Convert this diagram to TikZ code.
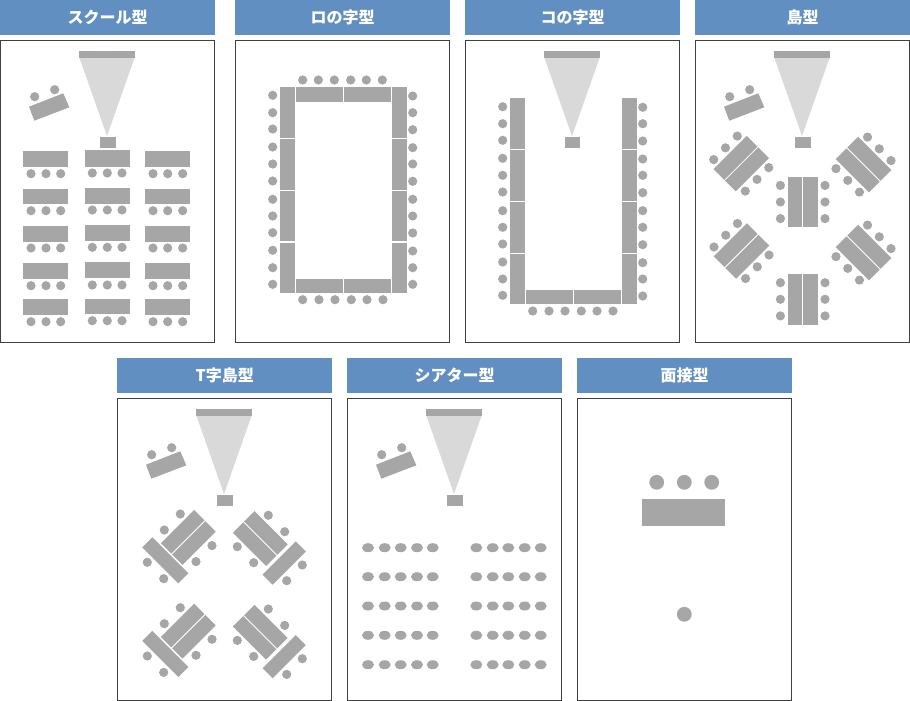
\documentclass[tikz,border=0pt]{standalone}
\usepackage{fontspec}
\newfontfamily\cjk{Noto Sans CJK JP}
\definecolor{hdr}{HTML}{628FC1}
\definecolor{furn}{HTML}{A6A6A6}
\definecolor{beam}{HTML}{D9D9D9}
\definecolor{edge}{HTML}{404040}
\tikzset{
  header/.style={fill=hdr,draw=none,text=white,minimum width=215pt,minimum height=35pt,inner sep=0pt,anchor=north west,font=\cjk\bfseries\fontsize{16pt}{17pt}\selectfont},
  panel/.style={draw=edge,line width=1pt,fill=white},
  furniture/.style={fill=furn,draw=none},
  lightbeam/.style={fill=beam,draw=none}
}
% seat at a position
\newcommand{\seatat}[2]{\fill[furniture] (#1,#2) circle[radius=4.6pt];}
% table from corner to corner
\newcommand{\tbl}[4]{\fill[furniture] (#1,#2) rectangle (#3,#4);}
% screen, beam, projector, presenter table; origin = panel corner
\newcommand{\screenset}[2]{%
  \begin{scope}[shift={(#1,#2)}]
    \fill[lightbeam] (79.5,18) -- (134.5,18) -- (107,96) -- cycle;
    \tbl{79.3}{11}{135}{18}
    \tbl{99.7}{96.7}{115.7}{108}
    \fill[furniture] (29,66.7) -- (63.3,53.3) -- (69.3,67.3) -- (34.3,80.7) -- cycle;
    \seatat{34.7}{56.7}
    \seatat{54.7}{49.7}
  \end{scope}}
% double table: centre x, y, rotation, half length, half width
\newcommand{\pairtbl}[5]{%
  \begin{scope}[shift={(#1,#2)},rotate=#3]
    \tbl{-#5}{-#4}{-0.6}{#4}
    \tbl{0.6}{-#4}{#5}{#4}
  \end{scope}}
\newcommand{\island}[5]{%
  \pairtbl{#1}{#2}{#3}{#4}{#5}
  \begin{scope}[shift={(#1,#2)},rotate=#3]
    \foreach \q in {-16.6,0,16.6}{\seatat{-22.3}{\q}\seatat{22.3}{\q}}
  \end{scope}}
\newcommand{\singletbl}[4]{%
  \begin{scope}[shift={(#1,#2)},rotate=#3]
    \tbl{-#4}{-7.1}{#4}{7.1}
  \end{scope}}
% T-island left and right variants, vertical offset
\newcommand{\tleft}[1]{%
  \begin{scope}[shift={(0,#1)}]
    \pairtbl{188.3}{537.5}{-45}{23.5}{15.3}
    \singletbl{165.3}{560.3}{-45}{25.5}
    \seatat{164.3}{530}\seatat{180.3}{514}\seatat{196}{561.6}\seatat{212}{545.6}
    \seatat{147.3}{562.3}\seatat{163.7}{578.7}
  \end{scope}}
\newcommand{\tright}[1]{%
  \begin{scope}[shift={(0,#1)}]
    \pairtbl{260.3}{538.5}{45}{23.5}{15.3}
    \singletbl{284.2}{563}{45}{23.5}
    \seatat{268.3}{515.3}\seatat{284.7}{531.7}\seatat{237.3}{546.7}\seatat{253.7}{562.7}
    \seatat{302.3}{565}\seatat{286.7}{580.7}
  \end{scope}}
\begin{document}
\begin{tikzpicture}[x=1pt,y=-1pt]
\useasboundingbox (0,0) rectangle (910,701);
\fill[white] (0,0) rectangle (910,701);
% panels
\foreach \px/\py in {0/40,235/40,465/40,695/40,117/398,347/398,577/398}{
  \draw[panel] (\px+0.5,\py+0.5) rectangle (\px+214.5,\py+302.5);
}
% headers
\node[header] (h1) at (0,0) {スクール型};
\node[header] (h2) at (235,0) {ロの字型};
\node[header] (h3) at (465,0) {コの字型};
\node[header] (h4) at (695,0) {島型};
\node[header] (h5) at (117,358) {T字島型};
\node[header] (h6) at (347,358) {シアター型};
\node[header] (h7) at (577,358) {面接型};

% School
\screenset{0}{40}
\foreach \a/\b/\s in {151/167.3/173.7,188.7/204/210.7,226/241.7/248,262.7/279/285.7,299.3/315/321.7}{
  \tbl{23}{\a}{68.3}{\b}
  \tbl{145.3}{\a}{190.3}{\b}
  \seatat{31}{\s}\seatat{46}{\s}\seatat{60.7}{\s}
  \seatat{153}{\s}\seatat{167.7}{\s}\seatat{182.7}{\s}
}
\foreach \a/\b/\s in {150.3/166.7/173,187.7/204/210,225.3/241/247.3,262/278.3/285,298.7/314.3/320.7}{
  \tbl{84.7}{\a}{129.7}{\b}
  \seatat{92.3}{\s}\seatat{107.3}{\s}\seatat{122}{\s}
}

% Ro-shape
\foreach \a/\b in {87.3/138,139/190,190.7/241.3,242.7/293.3}{
  \tbl{280}{\a}{295}{\b}
  \tbl{391.7}{\a}{406.7}{\b}
}
\tbl{295.7}{87.3}{342.7}{102}\tbl{344}{87.3}{390.7}{102}
\tbl{295.7}{278.7}{342.7}{293.3}\tbl{344}{278.7}{390.7}{293.3}
\foreach \s in {95.3,112.7,129,147,164,181,199.3,216,232.7,250.3,267.7,284.3}{\seatat{272.7}{\s}}
\foreach \s in {96,112.7,129.7,147.7,164,181.3,199.3,216,233,251,267.7,284.3}{\seatat{412.7}{\s}}
\foreach \s in {302.7,318.3,334.3,350.7,366.3,382.3}{\seatat{\s}{80}}
\foreach \s in {302.7,319,335,351.3,367,383}{\seatat{\s}{299.7}}

% Ko-shape
\fill[lightbeam] (544.5,58) -- (599.5,58) -- (572,136) -- cycle;
\tbl{544.3}{51}{600}{58}
\tbl{564.7}{136.7}{580.3}{148}
\foreach \a/\b in {98.3/149,150.3/201,202/252.7,253.7/304.3}{
  \tbl{510}{\a}{525}{\b}
  \tbl{621.7}{\a}{636.7}{\b}
}
\tbl{525.7}{289.7}{572.7}{304.3}\tbl{574}{289.7}{620.7}{304.3}
\foreach \s in {106.7,123.7,140.3,158.3,175.3,192,210.7,227.3,244,262,279,295.3}{\seatat{502.7}{\s}}
\foreach \s in {107.3,123.7,141,159,175.3,192.7,210.7,227.3,244.7,262.7,279,296}{\seatat{642.7}{\s}}
\foreach \s in {532.7,549,565,581.3,597,613}{\seatat{\s}{311}}

% Island
\screenset{695}{40}
\island{802.7}{202}{0}{25.3}{15}
\island{802.7}{299.3}{0}{25.3}{15}
\island{741.25}{163.6}{-45}{23.5}{15.8}
\island{863.5}{164.6}{45}{23.5}{15.8}
\island{741.5}{251}{-45}{23.5}{15.8}
\island{863.5}{252.6}{45}{23.5}{15.8}

% T-island
\screenset{117}{398}
\tleft{0}\tright{0}
\tleft{93.7}\tright{93.7}

% Theatre
\screenset{347}{398}
\foreach \y in {547.7,576.7,606,635.3,664.7}{
  \foreach \x in {368,384.7,400.7,417,432.7,476.3,492.7,508.3,524.7,540.7}{
    \fill[furniture] (\x,\y) ellipse[x radius=6pt,y radius=4.5pt];
  }
}

% Interview
\foreach \x in {656.7,684.3,711.7}{\fill[furniture] (\x,482.3) circle[radius=7.4pt];}
\tbl{642.3}{498.7}{725.3}{526.3}
\fill[furniture] (684.3,614.3) circle[radius=7.4pt];
\end{tikzpicture}
\end{document}
